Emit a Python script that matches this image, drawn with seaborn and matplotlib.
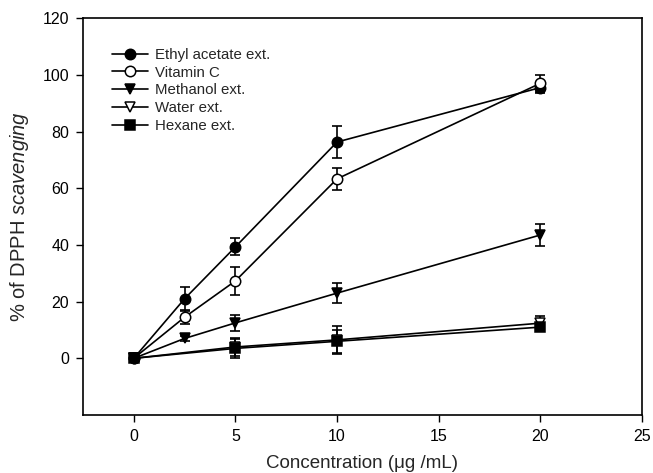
import seaborn as sns
import matplotlib.pyplot as plt
import pandas as pd

# DATA #
conc_a = [0, 2.5, 5, 10, 20]
conc_b = [0, 5, 10, 20]

ethyl = [0, 21, 39.3, 76.3, 95.5]
ethyl_err = [0.8, 4.2, 3, 5.5, 2]
vitc = [0, 14.5, 27.3, 63.3, 97]
vitc_err = [0.8, 2.5, 5, 3.9, 3]
methanol = [0, 7, 12.5, 23, 43.5]
methanol_err = [0.8, 1, 2.8, 3.5, 3.9]
water = [0, 4, 6.5, 12.4]
water_err = [0.8, 3.3, 5, 2.5]
hexane = [0, 3.5, 6, 11]
hexane_err = [0.8, 3.3, 4, 1.5]

series = [
    ('Ethyl acetate ext.', conc_a, ethyl, ethyl_err, 'o', 'black'),
    ('Vitamin C', conc_a, vitc, vitc_err, 'o', 'white'),
    ('Methanol ext.', conc_a, methanol, methanol_err, 'v', 'black'),
    ('Water ext.', conc_b, water, water_err, 'v', 'white'),
    ('Hexane ext.', conc_b, hexane, hexane_err, 's', 'black'),
]

# PLOT #
sns.set_style('ticks')
plt.rcParams['font.family'] = ['Liberation Sans', 'DejaVu Sans']
plt.rcParams['mathtext.fontset'] = 'custom'
plt.rcParams['mathtext.it'] = 'Liberation Sans:italic'
plt.rcParams['mathtext.rm'] = 'Liberation Sans'

fig = plt.figure(figsize=(6.53, 4.73), dpi=100)
ax = fig.add_axes([0.127, 0.1226, 0.856, 0.839])

for name, xs, ys, es, mk, fc in series:
    df = pd.DataFrame({'x': xs, 'y': ys})
    ax.errorbar(xs, ys, yerr=es, fmt='none', ecolor='black', elinewidth=1.2,
                capsize=3.8, capthick=1.2, zorder=2)
    sns.lineplot(data=df, x='x', y='y', ax=ax, color='black', linewidth=1.2,
                 marker=mk, markersize=7.5, markerfacecolor=fc,
                 markeredgecolor='black', markeredgewidth=1.1, label=name,
                 zorder=3)

ax.set_xlim(-2.5, 25)
ax.set_ylim(-20, 120)
ax.set_xticks([0, 5, 10, 15, 20, 25])
ax.set_yticks([0, 20, 40, 60, 80, 100, 120])
ax.tick_params(direction='out', length=5, width=1, labelsize=11.5,
               colors='black', pad=5)
for s in ax.spines.values():
    s.set_linewidth(1.2)
    s.set_color('black')

ax.set_xlabel('Concentration (μg /mL)', fontsize=13.5, labelpad=8)
ax.set_ylabel(r'% of DPPH $\it{scavenging}$', fontsize=14.5, labelpad=8)

ax.legend(loc='upper left', bbox_to_anchor=(0.041, 0.94), frameon=False,
          fontsize=10.8, handlelength=2.4, handletextpad=0.5, labelspacing=0.25,
          borderaxespad=0)

fig.savefig('out.png', dpi=100)
